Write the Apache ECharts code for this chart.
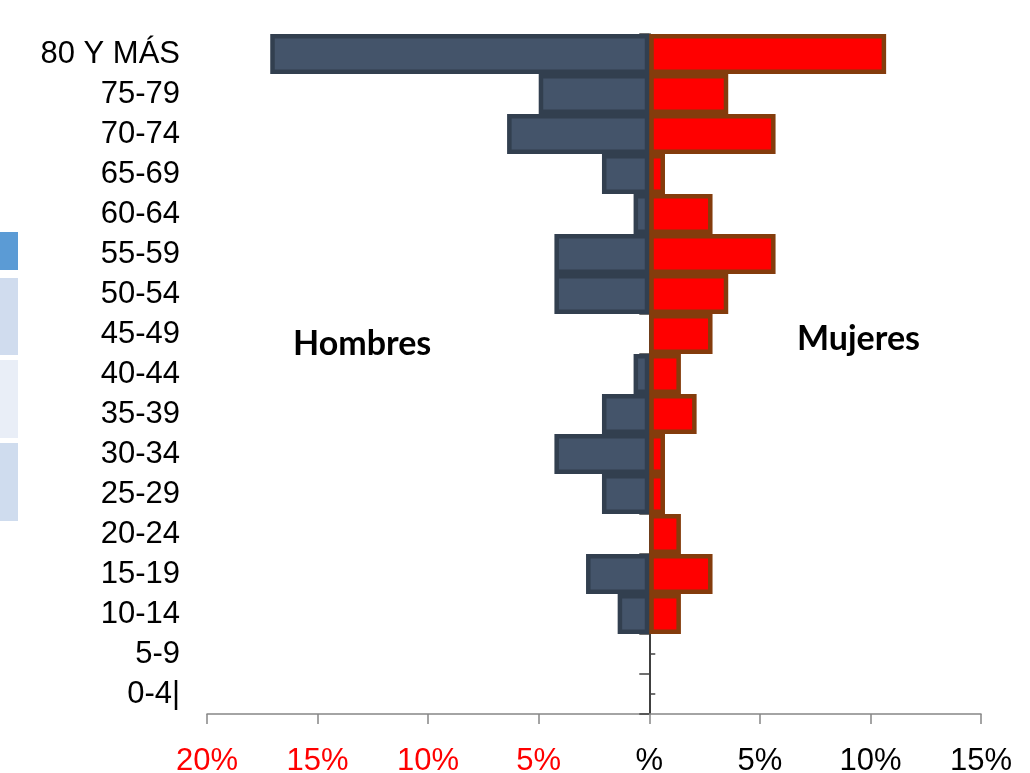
<!DOCTYPE html>
<html><head><meta charset="utf-8">
<script src="https://cdn.jsdelivr.net/npm/echarts@6/dist/echarts.min.js"></script>
<style>html,body{margin:0;padding:0;background:#fff}#c{width:1030px;height:773px}</style>
</head><body><div id="c"></div>
<script>
const categories = ['80 Y MÁS','75-79','70-74','65-69','60-64','55-59','50-54','45-49','40-44','35-39','30-34','25-29','20-24','15-19','10-14','5-9','0-4|'];
const hombres = [17.14,5.00,6.43,2.14,0.71,4.29,4.29,0,0.71,2.14,4.29,2.14,0,2.86,1.43,0,0];
const mujeres = [10.71,3.57,5.71,0.71,2.86,5.71,3.57,2.86,1.43,2.14,0.71,0.71,1.43,2.86,1.43,0,0];
const xTickLabels = {'-20':'20%','-15':'15%','-10':'10%','-5':'5%','0':'%','5':'5%','10':'10%','15':'15%'};

const chart = echarts.init(document.getElementById('c'));
chart.setOption({
  animation:false,
  grid:{left:207,right:49,top:34,bottom:59,containLabel:false,outerBoundsMode:'none'},
  graphic:[
    {type:'rect',shape:{x:0,y:232,width:18,height:38},style:{fill:'#5b9bd5'}},
    {type:'rect',shape:{x:0,y:278,width:18,height:77},style:{fill:'#d0dcee'}},
    {type:'rect',shape:{x:0,y:360,width:18,height:78},style:{fill:'#e9eef7'}},
    {type:'rect',shape:{x:0,y:443,width:18,height:78},style:{fill:'#cfdcee'}},
    {type:'text',left:293,top:327,style:{text:'Hombres',font:'bold 34px Lato, sans-serif',fill:'#000'}},
    {type:'text',left:797,top:322,style:{text:'Mujeres',font:'bold 34px Lato, sans-serif',fill:'#000'}}
  ],
  xAxis:{type:'value',min:-20,max:15,interval:5,
    axisLine:{show:true,onZero:false,lineStyle:{color:'#868686',width:1.5}},
    axisTick:{show:true,length:10,lineStyle:{color:'#868686',width:1.5}},
    splitLine:{show:false},
    axisLabel:{margin:32,fontSize:31,fontFamily:'"Liberation Sans", Arial, sans-serif',
      formatter:v=>xTickLabels[String(v)] ?? '',
      color:v=>(v<0?'#ff0000':'#000')}
  },
  yAxis:[
    {type:'category',data:categories,inverse:true,position:'left',
     axisLine:{show:false,onZero:false},axisTick:{show:false},
     axisLabel:{interval:0,margin:27,fontSize:31,color:'#000',fontFamily:'"Liberation Sans", Arial, sans-serif'}},
    {type:'category',data:categories,inverse:true,position:'left',
     axisLine:{show:true,onZero:true,onZeroAxisIndex:0,lineStyle:{color:'#000',width:1.5}},
     axisTick:{show:true,interval:0,length:10,lineStyle:{color:'#404040',width:1.5}},
     axisLabel:{show:false}},
    {type:'category',data:categories,inverse:true,position:'right',
     axisLine:{show:false,onZero:true,onZeroAxisIndex:0},
     axisTick:{show:true,interval:0,alignWithLabel:true,length:6,lineStyle:{color:'#404040',width:1.5}},
     axisLabel:{show:false}}
  ],
  series:[
    {name:'Hombres',type:'bar',stack:'p',barCategoryGap:'0%',
     data:hombres.map(v=>v===0?'-':-v),
     itemStyle:{color:'#44546a',borderColor:'#323f4f',borderWidth:4.5},
     emphasis:{disabled:true}},
    {name:'Mujeres',type:'bar',stack:'p',barCategoryGap:'0%',
     data:mujeres.map(v=>v===0?'-':v),
     itemStyle:{color:'#ff0000',borderColor:'#843c0c',borderWidth:4.5},
     emphasis:{disabled:true}}
  ]
});
</script></body></html>
